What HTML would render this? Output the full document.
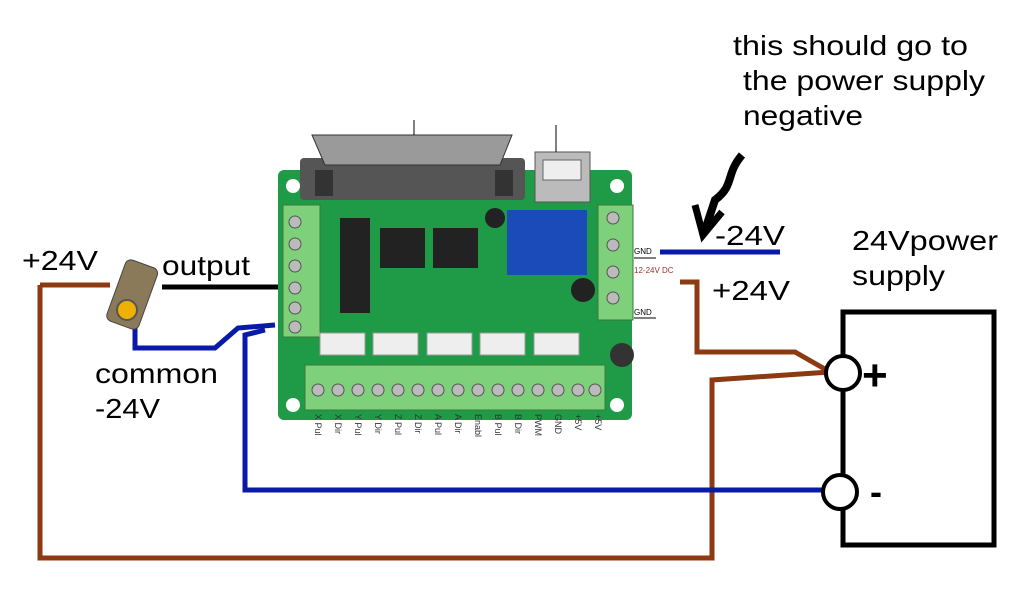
<!DOCTYPE html>
<html><head><meta charset="utf-8"><style>
body{margin:0;background:#fff;}
svg{display:block}
text{font-family:"Liberation Sans",sans-serif;}
</style></head><body>
<svg width="1022" height="610" viewBox="0 0 1022 610" xmlns="http://www.w3.org/2000/svg">
<rect width="1022" height="610" fill="#fff"/>
<!-- PCB -->
<rect x="278" y="170" width="354" height="250" rx="6" fill="#1f9a46"/>
<circle cx="293" cy="186" r="7" fill="#fff"/>
<circle cx="617" cy="186" r="7" fill="#fff"/>
<circle cx="293" cy="405" r="7" fill="#fff"/>
<circle cx="617" cy="405" r="7" fill="#fff"/>
<!-- DB25 -->
<rect x="300" y="158" width="225" height="42" rx="4" fill="#555"/>
<path d="M312 135 H512 L500 165 H325 Z" fill="#9a9a9a" stroke="#333"/>
<rect x="315" y="170" width="18" height="26" fill="#333"/><rect x="495" y="170" width="18" height="26" fill="#333"/>
<line x1="414" y1="120" x2="414" y2="135" stroke="#000"/>
<!-- USB -->
<rect x="535" y="152" width="55" height="50" fill="#bbb" stroke="#555"/>
<rect x="543" y="160" width="38" height="20" fill="#eee" stroke="#666"/>
<line x1="556" y1="125" x2="556" y2="152" stroke="#000"/>
<!-- relay -->
<rect x="507" y="210" width="80" height="65" fill="#1a4bb8"/>
<!-- chips -->
<rect x="380" y="228" width="45" height="40" fill="#222"/>
<rect x="433" y="228" width="45" height="40" fill="#222"/>
<rect x="340" y="218" width="30" height="95" fill="#222"/>
<circle cx="495" cy="218" r="10" fill="#222"/>
<circle cx="583" cy="290" r="12" fill="#222"/>
<circle cx="622" cy="355" r="12" fill="#333"/>
<!-- left terminals -->
<rect x="283" y="205" width="37" height="132" fill="#7ed07a" stroke="#3a7a3a"/>
<g fill="#bbb" stroke="#555"><circle cx="295" cy="222" r="6"/><circle cx="295" cy="244" r="6"/><circle cx="295" cy="266" r="6"/><circle cx="295" cy="288" r="6"/><circle cx="295" cy="308" r="6"/><circle cx="295" cy="327" r="6"/></g>
<!-- right terminals -->
<rect x="598" y="205" width="35" height="115" fill="#7ed07a" stroke="#3a7a3a"/>
<g fill="#bbb" stroke="#555"><circle cx="613" cy="218" r="6"/><circle cx="613" cy="245" r="6"/><circle cx="613" cy="272" r="6"/><circle cx="613" cy="298" r="6"/></g>
<g font-size="8" fill="#000"><text x="634" y="254">GND</text><text x="634" y="273" fill="#933">12-24V DC</text><text x="634" y="315">GND</text></g>
<line x1="634" y1="258" x2="656" y2="258" stroke="#000"/><line x1="634" y1="318" x2="656" y2="318" stroke="#000"/>
<!-- connector headers -->
<g fill="#eee" stroke="#999"><rect x="320" y="333" width="45" height="22"/><rect x="373" y="333" width="45" height="22"/><rect x="427" y="333" width="45" height="22"/><rect x="480" y="333" width="45" height="22"/><rect x="534" y="333" width="45" height="22"/></g>
<!-- bottom terminals -->
<rect x="305" y="365" width="300" height="45" fill="#7ed07a" stroke="#3a7a3a"/>
<g fill="#bbb" stroke="#555">
<circle cx="318" cy="390" r="6"/><circle cx="338" cy="390" r="6"/><circle cx="358" cy="390" r="6"/><circle cx="378" cy="390" r="6"/><circle cx="398" cy="390" r="6"/><circle cx="418" cy="390" r="6"/><circle cx="438" cy="390" r="6"/><circle cx="458" cy="390" r="6"/><circle cx="478" cy="390" r="6"/><circle cx="498" cy="390" r="6"/><circle cx="518" cy="390" r="6"/><circle cx="538" cy="390" r="6"/><circle cx="558" cy="390" r="6"/><circle cx="578" cy="390" r="6"/><circle cx="595" cy="390" r="6"/></g>
<g font-size="9" fill="#333">
<text transform="translate(315,414) rotate(90)">X Pul</text><text transform="translate(335,414) rotate(90)">X Dir</text><text transform="translate(355,414) rotate(90)">Y Pul</text><text transform="translate(375,414) rotate(90)">Y Dir</text><text transform="translate(395,414) rotate(90)">Z Pul</text><text transform="translate(415,414) rotate(90)">Z Dir</text><text transform="translate(435,414) rotate(90)">A Pul</text><text transform="translate(455,414) rotate(90)">A Dir</text><text transform="translate(475,414) rotate(90)">Enabl</text><text transform="translate(495,414) rotate(90)">B Pul</text><text transform="translate(515,414) rotate(90)">B Dir</text><text transform="translate(535,414) rotate(90)">PWM</text><text transform="translate(555,414) rotate(90)">GND</text><text transform="translate(575,414) rotate(90)">+5V</text><text transform="translate(595,414) rotate(90)">+5V</text></g>
<!-- wires -->
<polyline points="40,285 110,285" fill="none" stroke="#8b3a12" stroke-width="5"/>
<polyline points="40,285 40,558 712,558 712,380 830,372" fill="none" stroke="#8b3a12" stroke-width="5"/>
<polyline points="680,282 697,282 697,352 795,352 830,372" fill="none" stroke="#8b3a12" stroke-width="5"/>
<polyline points="162,287 278,287" fill="none" stroke="#000" stroke-width="5"/>
<polyline points="135,315 135,348 215,348 238,328 275,325" fill="none" stroke="#0a1aa8" stroke-width="5"/>
<polyline points="265,330 245,335 245,490 825,490" fill="none" stroke="#0a1aa8" stroke-width="5"/>
<line x1="660" y1="252" x2="780" y2="252" stroke="#0a1aa8" stroke-width="5"/>
<!-- sensor -->
<g transform="rotate(20 132 295)"><rect x="115" y="262" width="34" height="65" rx="6" fill="#8a7a5a" stroke="#444"/></g>
<circle cx="127" cy="310" r="10" fill="#f0b000" stroke="#555" stroke-width="2"/>
<!-- power supply -->
<rect x="843" y="312" width="151" height="233" fill="#fff" stroke="#000" stroke-width="5"/>
<circle cx="843" cy="373" r="17" fill="#fff" stroke="#000" stroke-width="4"/>
<circle cx="840" cy="492" r="17" fill="#fff" stroke="#000" stroke-width="4"/>
<text x="862" y="390" font-size="44" font-weight="bold">+</text>
<text x="870" y="504" font-size="36" font-weight="bold">-</text>
<!-- arrow -->
<path d="M742 155 C725 175 735 185 715 200 L705 230" fill="none" stroke="#000" stroke-width="8"/>
<path d="M695 205 L703 235 L722 212" fill="none" stroke="#000" stroke-width="7"/>
<!-- labels -->
<g font-size="28" fill="#000" lengthAdjust="spacingAndGlyphs">
<text x="22" y="270" textLength="76" lengthAdjust="spacingAndGlyphs">+24V</text>
<text x="162" y="275" textLength="88" lengthAdjust="spacingAndGlyphs">output</text>
<text x="95" y="383" textLength="123" lengthAdjust="spacingAndGlyphs">common</text>
<text x="95" y="418" textLength="65" lengthAdjust="spacingAndGlyphs">-24V</text>
<text x="733" y="55" textLength="235" lengthAdjust="spacingAndGlyphs">this should go to</text>
<text x="743" y="90" textLength="242" lengthAdjust="spacingAndGlyphs">the power supply</text>
<text x="743" y="125" textLength="120" lengthAdjust="spacingAndGlyphs">negative</text>
<text x="715" y="245" textLength="70" lengthAdjust="spacingAndGlyphs">-24V</text>
<text x="712" y="300" textLength="78" lengthAdjust="spacingAndGlyphs">+24V</text>
<text x="852" y="250" textLength="146" lengthAdjust="spacingAndGlyphs">24Vpower</text>
<text x="852" y="285" textLength="93" lengthAdjust="spacingAndGlyphs">supply</text>
</g>
</svg>
</body></html>
